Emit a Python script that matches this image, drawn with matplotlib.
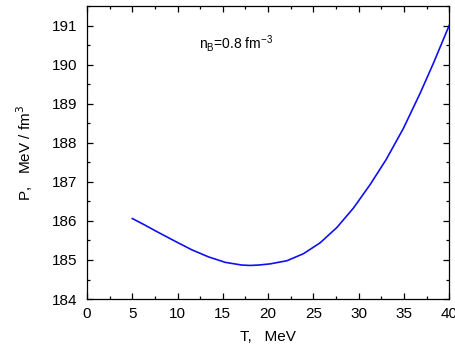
import numpy as np
import matplotlib.pyplot as plt
from matplotlib.ticker import MultipleLocator

plt.rcParams['font.family'] = ['Liberation Sans', 'DejaVu Sans']

# values
T = [5.0, 6.41, 7.51, 9.72, 11.57, 13.40, 15.25, 17.09, 18.01, 18.93, 20.22,
     22.07, 23.90, 25.75, 27.59, 29.43, 31.27, 33.04, 34.95, 36.80, 38.27, 40.0]
P = [186.06, 185.89, 185.75, 185.48, 185.26, 185.08, 184.94, 184.87, 184.86,
     184.87, 184.90, 184.98, 185.16, 185.44, 185.83, 186.33, 186.93, 187.57,
     188.37, 189.27, 190.04, 191.0]

fig = plt.figure(figsize=(4.56, 3.51), dpi=100)
ax = fig.add_axes([0.191, 0.148, 0.794, 0.835])
ax.plot(T, P, color='#1010f0', linewidth=1.2)

ax.set_xlim(0, 40)
ax.set_ylim(184, 191.5)
ax.xaxis.set_major_locator(MultipleLocator(5))
ax.xaxis.set_minor_locator(MultipleLocator(2.5))
ax.yaxis.set_major_locator(MultipleLocator(1))
ax.yaxis.set_minor_locator(MultipleLocator(0.5))
ax.tick_params(which='both', direction='in', top=True, right=True, width=0.9, labelsize=11)
ax.tick_params(which='major', length=4)
ax.tick_params(which='minor', length=2.5)
ax.tick_params(axis='x', pad=6)
ax.tick_params(axis='y', pad=7)
for s in ax.spines.values():
    s.set_linewidth(0.9)

ax.set_xlabel('T,   MeV', fontsize=11, labelpad=6)
ax.set_ylabel('P,   MeV / fm$^3$', fontsize=11, labelpad=12)
ax.text(12.4, 190.54, 'n$_\\mathregular{B}$=0.8 fm$^\\mathregular{-3}$', fontsize=10, va='center')

plt.savefig('out.png', dpi=100)
